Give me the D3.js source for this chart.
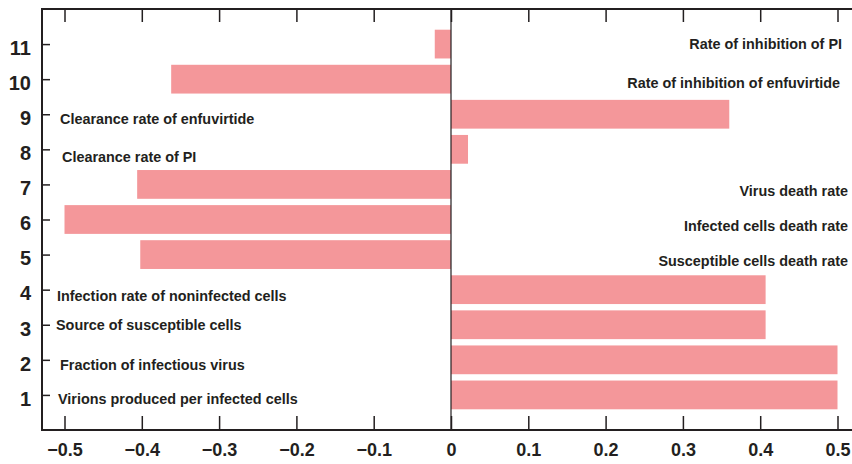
<!DOCTYPE html>
<html>
<head>
<meta charset="utf-8">
<script src="https://cdn.jsdelivr.net/npm/d3@7"></script>
<style>
  html, body { margin: 0; padding: 0; background: #fff; }
  svg { display: block; }
  text { font-family: "Liberation Sans", Arial, Helvetica, sans-serif; font-weight: bold; fill: #231f20; }
</style>
</head>
<body>
<svg id="chart" width="852" height="464"></svg>
<script>
// Sensitivity index for each model parameter (1..11)
const params = [1, 2, 3, 4, 5, 6, 7, 8, 9, 10, 11];
const values = [0.5, 0.5, 0.407, 0.407, -0.402, -0.5, -0.406, 0.022, 0.36, -0.362, -0.021];

// Parameter names printed on the left side of the plot
const leftNames = [
  "Clearance rate of enfuvirtide",
  "Clearance rate of PI",
  "Infection rate of noninfected cells",
  "Source of susceptible cells",
  "Fraction of infectious virus",
  "Virions produced per infected cells"
];
const leftParams = [9, 8, 4, 3, 2, 1];

// Parameter names printed on the right side of the plot
const rightNames = [
  "Rate of inhibition of PI",
  "Rate of inhibition of enfuvirtide",
  "Virus death rate",
  "Infected cells death rate",
  "Susceptible cells death rate"
];
const rightParams = [11, 10, 7, 6, 5];

const xTicks = [-0.5, -0.4, -0.3, -0.2, -0.1, 0, 0.1, 0.2, 0.3, 0.4, 0.5];

const svg = d3.select("#chart");
const plotL = 42, plotR = 852, plotT = 9, plotB = 430;
const ink = "#231f20";

const x = d3.scaleLinear().domain([-0.5, 0.5]).range([64.5, 837.5]);
const y = d3.scaleLinear().domain([0, 12]).range([plotB, plotT]);
const barH = (y(0) - y(1)) * 0.82;

// bars
svg.append("g").selectAll("rect")
  .data(params.map((p, i) => ({ p, v: values[i] })))
  .join("rect")
  .attr("x", d => x(Math.min(0, d.v)))
  .attr("width", d => Math.abs(x(d.v) - x(0)))
  .attr("y", d => y(d.p) - barH / 2)
  .attr("height", barH)
  .attr("fill", "#f4979a");

// zero line
svg.append("line")
  .attr("x1", x(0)).attr("x2", x(0))
  .attr("y1", plotT).attr("y2", plotB)
  .attr("stroke", ink).attr("stroke-width", 1.2);

const styleText = sel => sel
  .style("font-family", "\"Liberation Sans\", Arial, sans-serif")
  .style("font-weight", "bold")
  .attr("fill", ink);

// bottom axis (ticks pointing inward)
const fmt = d => d === 0 ? "0" : d3.format(".1f")(d).replace("-", "\u2212");
const xAxisB = d3.axisBottom(x).tickValues(xTicks).tickSize(-14).tickFormat(fmt);
const gB = svg.append("g").attr("transform", `translate(0,${plotB})`).call(xAxisB);
gB.select(".domain").remove();
gB.selectAll(".tick line").attr("stroke", ink).attr("stroke-width", 1.5);
gB.selectAll(".tick text").attr("font-size", 18).attr("dy", "0").attr("y", 21)
  .attr("dominant-baseline", "middle").call(styleText);

// top axis (ticks only, pointing inward)
const xAxisT = d3.axisTop(x).tickValues(xTicks).tickSize(-13).tickFormat("");
const gT = svg.append("g").attr("transform", `translate(0,${plotT})`).call(xAxisT);
gT.select(".domain").remove();
gT.selectAll(".tick line").attr("stroke", ink).attr("stroke-width", 1.5);

// left axis (ticks pointing inward)
const yAxis = d3.axisLeft(y).tickValues(params).tickSize(-8).tickFormat(d3.format("d")).tickPadding(11);
const gL = svg.append("g").attr("transform", `translate(${plotL},0)`).call(yAxis);
gL.select(".domain").remove();
gL.selectAll(".tick line").attr("stroke", ink).attr("stroke-width", 1.5);
gL.selectAll(".tick text").attr("font-size", 20).attr("dy", "0").attr("y", 5)
  .attr("dominant-baseline", "middle").call(styleText);

// frame lines
const frame = svg.append("g").attr("stroke", ink).attr("stroke-width", 2).attr("fill", "none");
frame.append("line").attr("x1", plotL).attr("x2", plotL).attr("y1", plotT).attr("y2", plotB);
frame.append("line").attr("x1", plotL - 1).attr("x2", plotR).attr("y1", plotT).attr("y2", plotT);
frame.append("line").attr("x1", plotL - 1).attr("x2", plotR).attr("y1", plotB).attr("y2", plotB);

// parameter names, nudged off their tick rows
const leftX = [60, 62, 57, 56, 60, 58];
const leftDy = [6, 9, 8, 1, 6, 5];
svg.append("g").selectAll("text")
  .data(leftNames)
  .join("text")
  .attr("x", (d, i) => leftX[i])
  .attr("y", (d, i) => y(leftParams[i]) + leftDy[i])
  .attr("dominant-baseline", "middle")
  .attr("font-size", 14.4)
  .text(d => d);

const rightX = [842, 840, 848, 848, 848];
const rightDy = [1.5, 5, 8, 8, 8];
svg.append("g").selectAll("text")
  .data(rightNames)
  .join("text")
  .attr("x", (d, i) => rightX[i])
  .attr("y", (d, i) => y(rightParams[i]) + rightDy[i])
  .attr("dominant-baseline", "middle")
  .attr("text-anchor", "end")
  .attr("font-size", 14.4)
  .text(d => d);
</script>
</body>
</html>
